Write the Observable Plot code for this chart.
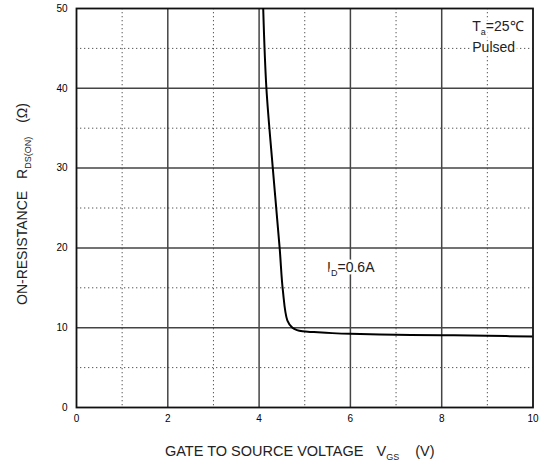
<!DOCTYPE html>
<html><head><meta charset="utf-8">
<script src="https://cdn.jsdelivr.net/npm/d3@7"></script>
<script src="https://cdn.jsdelivr.net/npm/@observablehq/plot@0.6"></script>
<style>body{margin:0;background:#fff}</style>
</head><body><div id="chart"></div>
<script>
// Data
const vgs = [4.09, 4.16, 4.30, 4.45, 4.52, 4.62, 4.73, 4.83, 4.95, 5.2, 5.6, 6.0, 7.0, 8.0, 9.0, 10.0];
const rds = [50, 40, 30, 20, 14.7, 10.9, 10.0, 9.7, 9.55, 9.45, 9.32, 9.23, 9.12, 9.06, 8.98, 8.9];
const xTicks = [0, 2, 4, 6, 8, 10];
const yTicks = [0, 10, 20, 30, 40, 50];
const xMajor = [2, 4, 6, 8];
const yMajor = [10, 20, 30, 40];
const xMinor = [1, 3, 5, 7, 9];
const yMinor = [5, 15, 25, 35, 45];
const noteText = ["Ta=25℃", "Pulsed", "ID=0.6A"];
const noteX = [8.67, 8.67, 5.49];
const noteY = [47.2, 44.6, 16.95];
const xLabel = "GATE TO SOURCE VOLTAGE VGS (V)";
const yLabel = "ON-RESISTANCE RDS(ON) (Ω)";

const curve = vgs.map((v, i) => ({x: v, y: rds[i]}));
const notes = noteText.map((t, i) => ({t, x: noteX[i], y: noteY[i]}));
const font = "'Liberation Sans', Arial, sans-serif";

const svg = Plot.plot({
  width: 545,
  height: 466,
  marginLeft: 76,
  marginRight: 12.5,
  marginTop: 8,
  marginBottom: 59,
  style: {fontFamily: font, background: "#fff", color: "#111"},
  x: {domain: [0, 10], label: null},
  y: {domain: [0, 50], label: null},
  marks: [
    Plot.ruleX(xMinor, {stroke: "#555", strokeWidth: 1, strokeDasharray: "1.3,2.7"}),
    Plot.ruleY(yMinor, {stroke: "#555", strokeWidth: 1, strokeDasharray: "1.3,2.7"}),
    Plot.ruleX(xMajor, {stroke: "#444", strokeWidth: 1.5}),
    Plot.ruleY(yMajor, {stroke: "#444", strokeWidth: 1.5}),
    Plot.frame({stroke: "#111", strokeWidth: 1.8}),
    Plot.line(curve, {x: "x", y: "y", stroke: "#000", strokeWidth: 2, curve: "catmull-rom", clip: true}),
    Plot.text(notes, {x: "x", y: "y", text: "t", textAnchor: "start", lineAnchor: "bottom",
      fontSize: 14, fill: "#222", stroke: "white", strokeWidth: 5, paintOrder: "stroke"}),
    Plot.axisX(xTicks, {tickSize: 0, tickPadding: 7, fontSize: 10, label: null, fill: "#000"}),
    Plot.axisY(yTicks, {tickSize: 0, tickPadding: 9, fontSize: 10, label: null, fill: "#000"}),
    Plot.text([xLabel], {text: d => d, frameAnchor: "bottom", dx: -5, dy: 48.5,
      textAnchor: "middle", lineAnchor: "bottom", fontSize: 14.5, fill: "#222"}),
    Plot.text([yLabel], {text: d => d, frameAnchor: "left", dx: -54, dy: -4, rotate: -90,
      textAnchor: "middle", lineAnchor: "middle", fontSize: 14, fill: "#222"})
  ]
});

function rich(el, parts) {
  const s = d3.select(el);
  s.text(null);
  let shifted = false;
  for (const [txt, sub, dx] of parts) {
    const ts = s.append("tspan").text(txt);
    if (dx) ts.attr("dx", dx);
    if (sub) {
      ts.attr("font-size", "9px");
      if (!shifted) { ts.attr("dy", 4); shifted = true; }
    } else if (shifted) {
      ts.attr("dy", -4); shifted = false;
    }
  }
}

d3.select(svg).selectAll("text").each(function () {
  const t = this.textContent;
  if (t === "Ta=25℃") rich(this, [["T"], ["a", 1], ["=25℃"]]);
  else if (t === "ID=0.6A") rich(this, [["I"], ["D", 1], ["=0.6A"]]);
  else if (t === xLabel) rich(this, [["GATE TO SOURCE VOLTAGE"], ["V", 0, 13], ["GS", 1], ["(V)", 0, 16]]);
  else if (t === yLabel) rich(this, [["ON-RESISTANCE"], ["R", 0, 12], ["DS(ON)", 1], ["(Ω)", 0, 14]]);
});

document.getElementById("chart").appendChild(svg);
</script>
</body></html>
